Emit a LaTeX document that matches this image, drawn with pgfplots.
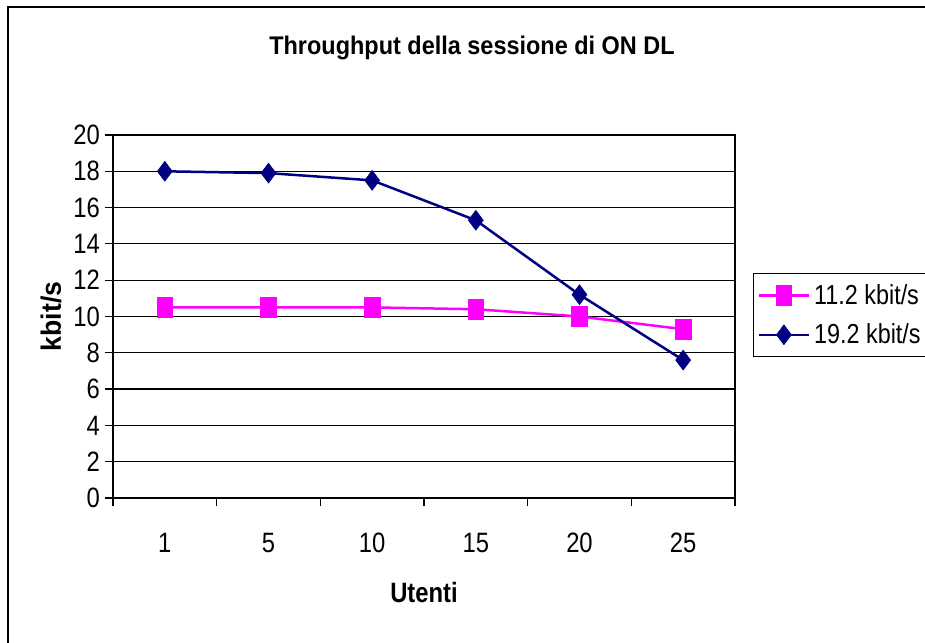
\documentclass[border=0pt]{standalone}
\usepackage{fontspec}
\setmainfont{Liberation Sans}[FakeStretch=0.85]
\newfontfamily\titlefont{Liberation Sans}[FakeStretch=0.92]
\newfontfamily\labfont{Liberation Sans}[FakeStretch=0.95]
\usepackage{pgfplots}
\pgfplotsset{compat=1.18}
\definecolor{pinkline}{RGB}{255,0,255}
\definecolor{navyline}{RGB}{0,0,128}
\begin{document}
\begin{tikzpicture}[x=1pt,y=1pt]
\useasboundingbox (0,0) rectangle (925,642);
\draw[line width=1.6pt] (8,-5) -- (8,635) -- (935,635);
\node[anchor=base, font=\titlefont\bfseries\fontsize{25.5}{28}\selectfont] at (472,587) {Throughput della sessione di ON DL};
\begin{axis}[
  at={(113pt,144pt)},
  scale only axis, width=622pt, height=363pt,
  xmin=-0.5, xmax=5.5, ymin=0, ymax=20,
  xtick={-0.5,0.5,...,5.5}, xticklabels={},
  extra x ticks={0,1,2,3,4,5},
  extra x tick labels={1,5,10,15,20,25},
  extra x tick style={major tick length=0pt},
  ytick={0,2,...,20},
  xtick pos=bottom, ytick pos=left,
  tick align=outside,
  major tick length=8pt,
  every tick/.style={black, line width=1.2pt},
  ymajorgrids, grid style={black, line width=1.2pt},
  axis line style={line width=1.4pt},
  /pgf/number format/assume math mode=true,
  tick label style={font=\fontsize{28}{32}\selectfont},
  yticklabel style={anchor=east, inner sep=0pt, xshift=-5pt},
  xticklabel style={anchor=base, inner sep=0pt, yshift=-54pt},
  xlabel={Utenti},
  ylabel={kbit/s},
  xlabel style={at={(axis description cs:0.5,-0.2865)}, anchor=base, inner sep=0pt, font=\bfseries\fontsize{28}{32}\selectfont},
  ylabel style={at={(axis description cs:-0.0836,0.5)}, anchor=base, inner sep=0pt, font=\labfont\bfseries\fontsize{28}{32}\selectfont},
  legend style={at={(rel axis cs:1.029,0.6198)}, anchor=north west, draw=black, line width=1.2pt,
    font=\fontsize{27.5}{32}\selectfont, inner xsep=4pt, inner ysep=9pt, row sep=14pt,
    nodes={inner xsep=4pt}},
  legend cell align=left,
  legend image code/.code={\draw[#1, mark repeat=2, mark phase=2] plot coordinates {(-2pt,0pt)(23pt,0pt)(48pt,0pt)};},
]
\addplot[pinkline, line width=2.5pt, mark=square*, mark size=10pt, mark options={xscale=0.78, line width=0.5pt}]
  coordinates {(0,10.5)(1,10.5)(2,10.5)(3,10.4)(4,10.0)(5,9.3)};
\addlegendentry{11.2 kbit/s}
\addplot[navyline, line width=2.5pt, mark=diamond*, mark size=10pt, mark options={line width=0.5pt}]
  coordinates {(0,18.0)(1,17.9)(2,17.5)(3,15.3)(4,11.2)(5,7.6)};
\addlegendentry{19.2 kbit/s}
\end{axis}
\end{tikzpicture}
\end{document}
